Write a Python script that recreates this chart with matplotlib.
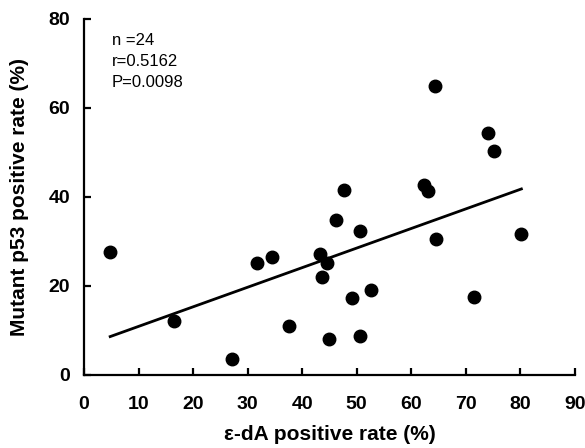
import numpy as np
import matplotlib
matplotlib.use('Agg')
import matplotlib.pyplot as plt

plt.rcParams['font.family'] = ['Liberation Sans', 'DejaVu Sans']

# e-dA positive rate (%) vs mutant p53 positive rate (%)
eda = [4.8, 16.5, 27.1, 31.7, 34.4, 37.6, 43.3, 44.5, 43.7, 45.0, 49.1, 52.7, 71.5, 50.7,
       64.3, 74.1, 75.1, 62.4, 63.0, 47.7, 46.2, 50.6, 64.6, 80.2]
p53 = [27.6, 12.1, 3.7, 25.2, 26.4, 11.0, 27.2, 25.2, 21.9, 8.1, 17.2, 19.1, 17.6, 8.8,
       65.0, 54.3, 50.3, 42.7, 41.4, 41.6, 34.7, 32.4, 30.5, 31.6]
stats_text = ['n =24', 'r=0.5162', 'P=0.0098']

x = np.array(eda)
y = np.array(p53)
k, b = np.polyfit(x, y, 1)
xl = np.array([x.min(), x.max()])

fig = plt.figure(figsize=(5.85, 4.48), dpi=100)
ax = fig.add_axes([0.1436, 0.163, 0.839, 0.795])

ax.plot(x, y, 'o', color='black', ms=9, zorder=3)
ax.plot(xl, k * xl + b, color='black', lw=2)

ax.set_xlim(0, 90)
ax.set_ylim(0, 80)
ax.set_xticks(range(0, 91, 10))
ax.set_yticks(range(0, 81, 20))
ax.spines['top'].set_visible(False)
ax.spines['right'].set_visible(False)
for s in ['left', 'bottom']:
    ax.spines[s].set_linewidth(1.6)
ax.tick_params(direction='in', length=5, width=1.6, labelsize=14, pad=10)
ax.tick_params(axis='x', pad=15)
for lab in ax.get_xticklabels() + ax.get_yticklabels():
    lab.set_fontweight('bold')

ax.set_xlabel('ε-dA positive rate (%)', fontsize=15, fontweight='bold', labelpad=9)
ax.set_ylabel('Mutant p53 positive rate (%)', fontsize=15, fontweight='bold', labelpad=14)

ax.text(0.057, 0.96, '\n'.join(stats_text), transform=ax.transAxes,
        fontsize=12, va='top', ha='left', linespacing=1.5)

fig.savefig('out.png', dpi=100)
